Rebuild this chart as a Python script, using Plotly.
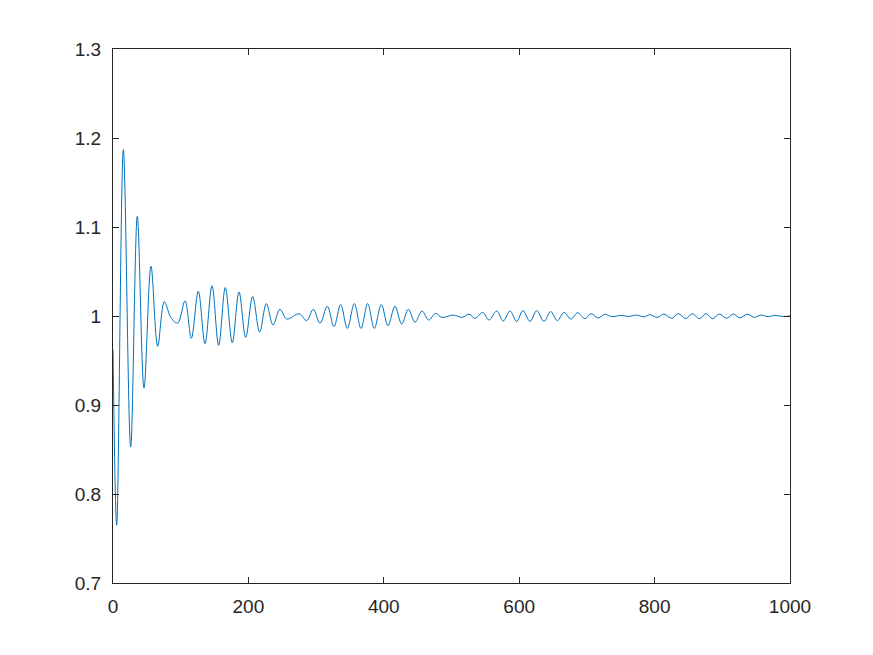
# Damped oscillation response, recreated from an Octave-style line plot
import plotly.graph_objects as go

# turning points (x, value)
x_pts = [0, 5.4, 15.3, 26.1, 35.9, 45.8, 56.1, 66.0, 75.8, 85.7, 95.5,
         106.4, 115.7, 126.0, 135.9, 146.2, 156.1, 165.9, 176.2, 186.1, 196.0,
         206.3, 216.6, 226.5, 236.3, 246.7, 256.6, 275.2, 286.0, 295.9, 305.8,
         316.6, 326.4, 336.3, 346.1, 356.5, 366.3, 376.2, 386.0, 396.3, 406.2,
         416.5, 426.4, 436.2, 446.1, 456.4, 466.3, 476.6, 485.5, 502.7, 516.0,
         525.9, 534.7, 546.1, 555.4, 566.8, 576.5, 586.4, 596.3, 605.5, 616.0,
         625.9, 636.6, 646.5, 656.3, 666.2, 676.5, 686.4, 697.2, 706.1, 716.8,
         726.7, 736.6, 751.0, 762.0, 773.5, 784.3, 793.2, 804.0, 813.9, 825.2,
         835.0, 846.0, 855.7, 866.0, 875.9, 885.8, 895.6, 906.5, 916.3, 926.1,
         936.9, 947.3, 956.7, 968.0, 978.0, 988.0, 1000]
y_pts = [0.962, 0.765, 1.187, 0.853, 1.112, 0.919, 1.056, 0.966, 1.016, 0.998, 0.992,
         1.017, 0.975, 1.028, 0.969, 1.034, 0.967, 1.032, 0.970, 1.027, 0.976,
         1.022, 0.982, 1.014, 0.990, 1.0075, 0.9966, 1.0025, 0.9948, 1.0075, 0.9918,
         1.011, 0.988, 1.013, 0.986, 1.014, 0.986, 1.014, 0.986, 1.013, 0.989,
         1.011, 0.991, 1.0075, 0.993, 1.0056, 0.9955, 1.003, 0.9985, 1.001, 0.9985,
         1.002, 0.9974, 1.004, 0.9955, 1.0056, 0.9944, 1.0056, 0.994, 1.006, 0.994,
         1.006, 0.994, 1.005, 0.9948, 1.004, 0.9966, 1.0037, 0.997, 1.0026, 0.9978,
         1.002, 0.9993, 1.0007, 0.9995, 1.001, 0.999, 1.0015, 0.9985, 1.0022, 0.9974,
         1.0026, 0.997, 1.0026, 0.997, 1.0026, 0.997, 1.0022, 0.9974, 1.0022, 0.998,
         1.002, 0.9985, 1.001, 0.9993, 1.0007, 0.9995, 1.0]

x_ticks = [0, 200, 400, 600, 800, 1000]
y_ticks = [0.7, 0.8, 0.9, 1, 1.1, 1.2, 1.3]
y_labels = ["0.7", "0.8", "0.9", "1", "1.1", "1.2", "1.3"]

fig = go.Figure()
fig.add_trace(go.Scatter(x=x_pts, y=y_pts, mode="lines",
                         line=dict(color="#0072BD", width=1, shape="spline", smoothing=1.0),
                         showlegend=False))

axis_style = dict(showgrid=False, zeroline=False, showline=True, mirror="ticks",
                  linecolor="#262626", linewidth=1, ticks="inside", ticklen=6,
                  tickcolor="#262626", tickwidth=1,
                  tickfont=dict(family="Liberation Sans", size=19, color="#262626"))

fig.update_xaxes(range=[0, 1000], tickvals=x_ticks, ticklabelstandoff=6, **axis_style)
fig.update_yaxes(range=[0.7, 1.3], tickvals=y_ticks, ticktext=y_labels,
                 ticklabelstandoff=7, **axis_style)

# page body adds about 8px, so margins are shifted to keep the box where it was
fig.update_layout(width=873, height=655, plot_bgcolor="white", paper_bgcolor="white",
                  margin=dict(l=105, r=91, t=41, b=80))

fig.write_html("out.html")
